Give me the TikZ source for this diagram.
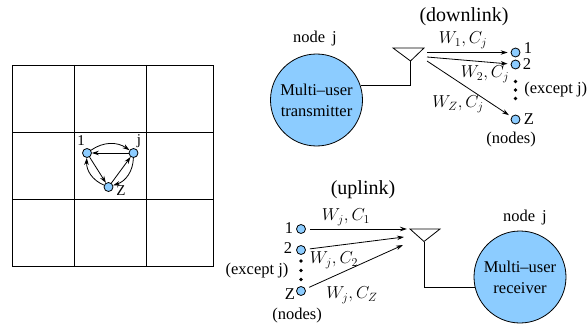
\documentclass[tikz,border=0pt]{standalone}
\usepackage{fontspec}
\setmainfont{Liberation Serif}
\usetikzlibrary{arrows.meta}
\definecolor{nodeblue}{RGB}{140,204,255}
\begin{document}
\begin{tikzpicture}[x=1pt, y=-1pt, line width=0.8pt,
  vertex/.style={draw, fill=nodeblue, circle, inner sep=0pt, minimum size=9pt},
  dotvertex/.style={fill, circle, inner sep=0pt, minimum size=3.6pt},
  bigvertex/.style={draw, fill=nodeblue, circle, inner sep=0pt, minimum size=92pt, align=center, font=\fontsize{16.5}{21}\selectfont},
  txt/.style={inner sep=0pt, font=\fontsize{16.5}{18}\selectfont},
  titletxt/.style={inner sep=0pt, font=\fontsize{20}{22}\selectfont},
  smalltxt/.style={inner sep=0pt, font=\fontsize{15}{16}\selectfont},
  mathtxt/.style={inner sep=0pt, font=\fontsize{18}{19}\selectfont},
  arr/.style={-{Stealth[length=7pt,width=4.5pt]}}]
\useasboundingbox (0,0) rectangle (588,326);

% grid
\draw (12,65) rectangle (213,266);
\draw (74.5,65) -- (74.5,266);
\draw (146,65) -- (146,266);
\draw (12,132) -- (213,132);
\draw (12,199) -- (213,199);

% small network
\node (g1) at (87,153) [vertex] {};
\node (gj) at (133.5,153) [vertex] {};
\node (gz) at (108.5,187) [vertex] {};
\node (g1l) at (81,141) [smalltxt] {1};
\node (gjl) at (139,141) [smalltxt] {j};
\node (gzl) at (121,191) [smalltxt] {Z};
\draw[arr] (g1) to[bend left=35] (gj);
\draw[arr] (gj) to (g1);
\draw[arr] (g1) to (gz);
\draw[arr] (gz) to (gj);
\draw[arr] (gj) to[bend left=35] (gz);
\draw[arr] (gz) to[bend left=35] (g1);

% downlink
\node (dtitle) at (464,17) [titletxt] {(downlink)};
\node (dnode) at (315,39) [txt] {node\, j};
\node (tx) at (316.5,100) [bigvertex] {Multi--user\\transmitter};
\coordinate (da) at (393,48);
\coordinate (db) at (424,48);
\coordinate (dc) at (410.5,61);
\draw (da) -- (db) -- (dc) -- cycle;
\draw (dc) |- (tx.18);
\coordinate (ds1) at (427,52.5);
\coordinate (ds2) at (427,57);
\coordinate (dsz) at (427,61);
\node (d1) at (515.5,52.5) [vertex] {};
\node (d2) at (515.5,64.5) [vertex] {};
\node (dz) at (515.5,119.5) [vertex] {};
\draw[arr, shorten >=3pt] (ds1) to (d1);
\draw[arr, shorten >=3pt] (ds2) to (d2);
\draw[arr, shorten >=3pt] (dsz) to (dz);
\node (dd1) at (515.5,81.5) [dotvertex] {};
\node (dd2) at (515.5,90) [dotvertex] {};
\node (dd3) at (515.5,98.5) [dotvertex] {};
\node (d1l) at (528,48) [txt] {1};
\node (d2l) at (527,64) [txt] {2};
\node (dzl) at (529,119.5) [txt] {Z};
\node (dexc) at (587.5,90) [txt, anchor=east] {(except j)};
\node (dnodes) at (511,140) [txt] {(nodes)};
\node (dw1) at (463,40) [mathtxt] {$W_1, C_j$};
\node (dw2) at (485,74) [mathtxt] {$W_2, C_j$};
\node (dwz) at (458,104) [mathtxt] {$W_Z, C_j$};

% uplink
\node (utitle) at (363,190) [titletxt] {(uplink)};
\node (unode) at (525,218) [txt] {node\, j};
\node (rx) at (520,277) [bigvertex] {Multi--user\\receiver};
\coordinate (ua) at (410,229);
\coordinate (ub) at (440,229);
\coordinate (uc) at (424,241.5);
\draw (ua) -- (ub) -- (uc) -- cycle;
\draw (uc) |- (rx.193);
\node (u1) at (301,229) [vertex] {};
\node (u2) at (301,250) [vertex] {};
\node (uz) at (301,291) [vertex] {};
\coordinate (ue1) at (407,229);
\coordinate (ue2) at (404,237);
\coordinate (uez) at (403,245);
\draw[arr, shorten <=4pt] (u1) to (ue1);
\draw[arr, shorten <=4pt] (u2) to (ue2);
\draw[arr, shorten <=4pt] (uz) to (uez);
\node (ud1) at (301,261) [dotvertex] {};
\node (ud2) at (301,270.5) [dotvertex] {};
\node (ud3) at (301,279.5) [dotvertex] {};
\node (u1l) at (289,228) [txt] {1};
\node (u2l) at (288,248) [txt] {2};
\node (uzl) at (290,294) [txt] {Z};
\node (uexc) at (257,271) [txt] {(except j)};
\node (unodes) at (297,316) [txt] {(nodes)};
\node (uw1) at (346,217) [mathtxt] {$W_j, C_1$};
\node (uw2) at (334,260) [mathtxt] {$W_j, C_2$};
\node (uwz) at (352,295) [mathtxt] {$W_j, C_Z$};
\end{tikzpicture}
\end{document}
